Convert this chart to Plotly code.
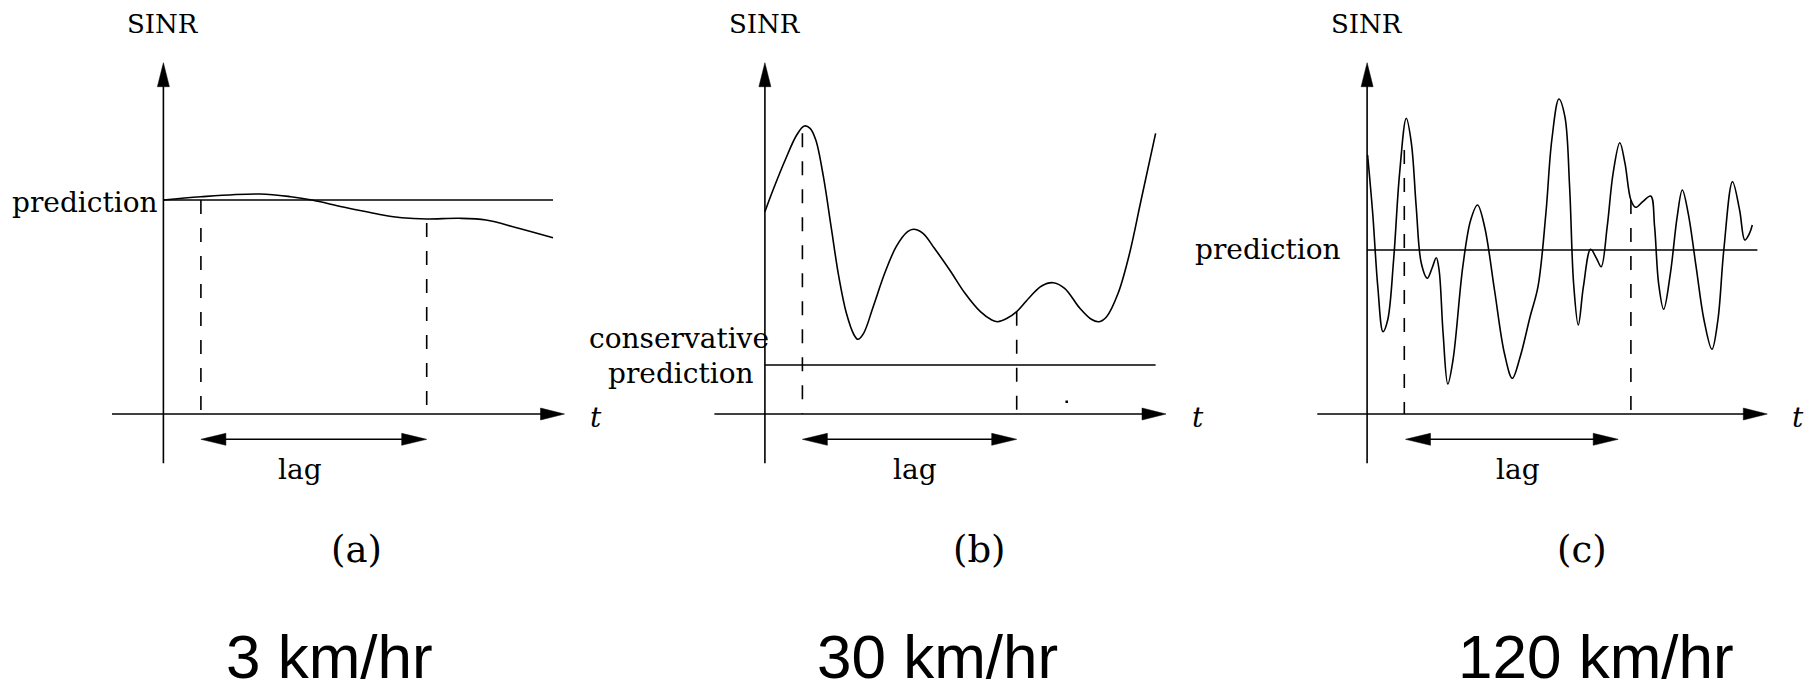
import plotly.graph_objects as go

# ---------------- data (local units: t right of the SINR axis, SINR above the t axis) -------------
# panel (a): 3 km/hr
a_t = [0, 37.5, 96.8, 127.5, 148.5, 181, 219.3, 238.4, 263.3, 295.8, 322.6, 353.2, 389.6]
a_sinr = [214, 217.3, 220, 217.3, 214, 206.7, 199, 196.3, 195, 195.7, 194, 186.3, 176.3]
a_prediction = 214
a_lag = [37.5, 263.3]
a_dash_top = [214, 191]

# panel (b): 30 km/hr
b_t = [0, 8.8, 20.3, 31.8, 39.4, 45.2, 50.9, 58.5, 66.2, 73.9, 81.5, 89.2, 93.0, 98.7, 108.3,
       119.8, 131.3, 142.7, 148.5, 158.1, 169.5, 184.8, 200.1, 215.5, 226.9, 232.7, 242.2, 251.8,
       265.2, 276.7, 288.2, 299.7, 315.0, 326.4, 334.1, 341.7, 353.2, 364.7, 376.2, 390.7]
b_sinr = [202.3, 225.7, 254, 279, 288, 285.7, 274, 237.3, 187.3, 137.3, 100.7, 79, 74.7, 80.7, 107.3,
          140.7, 167.3, 182.3, 184.7, 180.7, 165.7, 144, 120.7, 102.3, 94, 92.3, 95.7, 102.3,
          117.3, 128, 131.3, 125.7, 105.7, 94.7, 92.3, 97.3, 120.7, 160.7, 214, 280.7]
b_prediction = 49
b_lag = [37.5, 251.8]
b_dash_top = [280.7, 102.3]
b_dot = (301.8, 12.3)

# panel (c): 120 km/hr
c_t = [0.5, 5.6, 10.7, 15.9, 20.6, 26.5, 32.5, 39.2, 44.3, 49.1, 54.2, 60.2, 64.9, 69.2, 72.0,
       76.0, 80.7, 85.9, 95.7, 103.6, 110.4, 117.5, 127.4, 137.3, 145.2, 153.1, 163.0, 170.9,
       178.8, 184.7, 191.8, 197.8, 202.5, 206.5, 211.2, 216.3, 223.5, 229.4, 234.1, 240.1, 246.0,
       252.7, 257.9, 263.8, 268.5, 275.6, 283.6, 287.5, 291.5, 296.6, 303.3, 310.1, 315.2, 321.1,
       329.0, 336.9, 344.8, 350.8, 356.7, 365.4, 372.5, 377.7, 382.4, 385.2]
c_sinr = [259, 200.7, 127.3, 82.3, 94, 154, 240.7, 295.7, 270.7, 207.3, 150.7, 135.7, 145.7, 156.3, 144,
          80.7, 30, 54, 147.3, 194, 209, 187.3, 124, 60.7, 35.7, 57.3, 97.3, 127.3,
          200.7, 274, 315, 297.3, 227.3, 130.7, 89, 127.3, 164.7, 155.7, 147.3, 187.3, 240.7,
          271.3, 250.7, 214, 206.7, 212.3, 218, 187.3, 130.7, 104.7, 140.7, 197.3, 224, 200.7,
          147.3, 94, 64.7, 94, 164, 232.3, 204, 174, 180.7, 189]
c_prediction = 164
c_lag = [38.4, 251.1]
c_dash = [37.2, 263.8]
c_dash_top = [264, 214]

panel_labels = ["(a)", "(b)", "(c)"]
speed_labels = ["3 km/hr", "30 km/hr", "120 km/hr"]

# ---------------- layout constants (pixel-based) -------------
W, H = 1810, 691
OY = 414                      # pixel row of the t axis
origins = [163.4, 764.9, 1367.1]
bounds = [0, W / 3, 2 * W / 3, W]
Y_TOP = 351.3                 # tip of SINR axis
Y_BOT = -49.3
X_LEFT = [-51.4, -50.5, -49.8]
X_TIP = [401.1, 401.1, 400.2]
LAG_Y = -25.3
LW = 1.6
BLACK = "black"
SERIF = "DejaVu Serif"

fig = go.Figure()

def ax(i):
    return ("x" if i == 0 else f"x{i+1}"), ("y" if i == 0 else f"y{i+1}")

def line(i, xs, ys, dash=None, width=LW, shape="linear"):
    xa, ya = ax(i)
    ln = dict(color=BLACK, width=width, dash=dash, shape=shape)
    if shape == "spline":
        ln["smoothing"] = 1.0
    fig.add_trace(go.Scatter(x=xs, y=ys, mode="lines", xaxis=xa, yaxis=ya,
                             line=ln, hoverinfo="skip", showlegend=False))

def head(i, tx, ty, direction, length=24, half=6):
    xa, ya = ax(i)
    if direction == "up":
        xs = [tx, tx - half, tx + half, tx]
        ys = [ty, ty - length, ty - length, ty]
    elif direction == "right":
        xs = [tx, tx - length, tx - length, tx]
        ys = [ty, ty + half, ty - half, ty]
    else:  # left
        xs = [tx, tx + length, tx + length, tx]
        ys = [ty, ty + half, ty - half, ty]
    fig.add_trace(go.Scatter(x=xs, y=ys, mode="lines", fill="toself", fillcolor=BLACK,
                             xaxis=xa, yaxis=ya, line=dict(color=BLACK, width=0.5),
                             hoverinfo="skip", showlegend=False))

def text(i, x, y, s, size=28, xanchor="center", family=SERIF, italic=False):
    xa, ya = ax(i)
    fig.add_annotation(x=x, y=y, xref=xa, yref=ya, text=(f"<i>{s}</i>" if italic else s),
                       showarrow=False, xanchor=xanchor, yanchor="middle",
                       font=dict(family=family, size=size, color=BLACK))

curves = [(a_t, a_sinr), (b_t, b_sinr), (c_t, c_sinr)]
preds = [a_prediction, b_prediction, c_prediction]
lags = [a_lag, b_lag, c_lag]
dashes = [a_lag, [b_lag[0], b_lag[1]], c_dash]
dash_tops = [a_dash_top, b_dash_top, c_dash_top]
pred_end = [389.6, 390.7, 390.3]

for i in range(3):
    # axes
    line(i, [0, 0], [Y_BOT, Y_TOP - 20])
    head(i, 0, Y_TOP, "up")
    line(i, [X_LEFT[i], X_TIP[i] - 20], [0, 0])
    head(i, X_TIP[i], 0, "right")
    # prediction line
    line(i, [0, pred_end[i]], [preds[i], preds[i]])
    # SINR curve
    t, s = curves[i]
    line(i, t, s, shape="spline")
    # dashed verticals
    for k in range(2):
        line(i, [dashes[i][k], dashes[i][k]], [dash_tops[i][k], 0], dash="14px,14px")
    # lag arrow
    line(i, [lags[i][0] + 20, lags[i][1] - 20], [LAG_Y, LAG_Y])
    head(i, lags[i][0], LAG_Y, "left", length=25)
    head(i, lags[i][1], LAG_Y, "right", length=25)
    # labels
    text(i, 0, 390, "SINR", size=26)
    text(i, [136.6, 150.1, 151.1][i], -55, "lag", size=28)
    text(i, [432.2, 433, 431][i], -3, "t", size=28, italic=True)
    text(i, [193.3, 214.1, 215.4][i], -135, panel_labels[i], size=37)
    text(i, [166.2, 173.0, 228.7][i], -242, speed_labels[i], size=62,
         family="Liberation Sans, Arial, sans-serif")

text(0, -3, 212, "prediction", xanchor="right")
text(1, 6, 76, "conservative", xanchor="right")
text(1, -9, 41, "prediction", xanchor="right")
text(2, -24, 165, "prediction", xanchor="right")

# small stray dot in panel (b)
fig.add_trace(go.Scatter(x=[b_dot[0]], y=[b_dot[1]], mode="markers", xaxis="x2", yaxis="y2",
                         marker=dict(symbol="square", size=2.5, color=BLACK),
                         hoverinfo="skip", showlegend=False))

layout = dict(width=W, height=H, margin=dict(l=0, r=0, t=0, b=0),
              paper_bgcolor="white", plot_bgcolor="white", showlegend=False)
for i in range(3):
    xa, ya = ax(i)
    xk = "xaxis" if i == 0 else f"xaxis{i+1}"
    yk = "yaxis" if i == 0 else f"yaxis{i+1}"
    o = origins[i]
    layout[xk] = dict(domain=[bounds[i] / W, bounds[i + 1] / W],
                      range=[bounds[i] - o, bounds[i + 1] - o],
                      visible=False, fixedrange=True, anchor=ya)
    layout[yk] = dict(domain=[0, 1], range=[OY - H, OY], visible=False,
                      fixedrange=True, anchor=xa)
fig.update_layout(**layout)

fig.write_html("out.html")
